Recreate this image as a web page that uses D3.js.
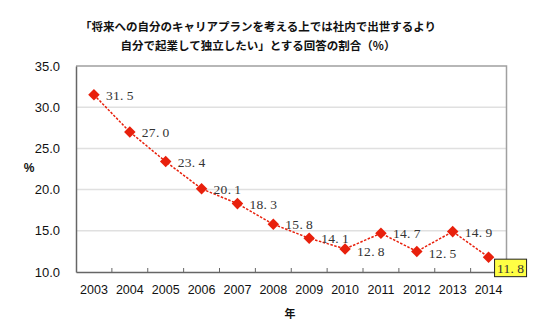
<!DOCTYPE html>
<html><head><meta charset="utf-8">
<script src="https://cdn.jsdelivr.net/npm/d3@7"></script>
<style>body{margin:0;background:#fff}svg{display:block}</style>
</head><body>
<svg id="c" width="560" height="330"></svg>
<script>
const years = ["2003","2004","2005","2006","2007","2008","2009","2010","2011","2012","2013","2014"];
const values = [31.5,27.0,23.4,20.1,18.3,15.8,14.1,12.8,14.7,12.5,14.9,11.8];
const yTicks = [10,15,20,25,30,35];
const titleLines = ["「将来への自分のキャリアプランを考える上では社内で出世するより","自分で起業して独立したい」とする回答の割合（%）"];
const yLabel = "%";
const xLabel = "年";

const svg = d3.select("#c");
const L = 76, R = 506.5, T = 66, B = 272;
const x = d3.scaleBand().domain(years).range([L, R]);
const y = d3.scaleLinear().domain([10, 35]).range([B, T]);

svg.append("g").selectAll("line").data(yTicks.filter(t => t > 10 && t < 35)).join("line")
  .attr("x1", L).attr("x2", R).attr("y1", d => y(d)).attr("y2", d => y(d))
  .attr("stroke", "#e0e0e0").attr("stroke-width", 1.5);

svg.append("path").attr("d", `M${L},${T}H${R}V${B}`).attr("fill", "none").attr("stroke", "#a0a0a0").attr("stroke-width", 1.5);

const yAxis = svg.append("g").attr("transform", `translate(${L},0)`)
  .call(d3.axisLeft(y).tickValues(yTicks).tickSize(0).tickPadding(16).tickFormat(d3.format(".1f")));
yAxis.select(".domain").attr("stroke", "#666").attr("stroke-width", 1.5);
yAxis.selectAll("text").attr("font-family", "Liberation Sans, Arial, sans-serif").attr("font-size", 13).attr("fill", "#111");

const xAxis = svg.append("g").attr("transform", `translate(0,${B})`)
  .call(d3.axisBottom(x).tickSize(0).tickPadding(13));
xAxis.select(".domain").attr("stroke", "#666").attr("stroke-width", 1.5);
xAxis.selectAll("text").attr("font-family", "Liberation Sans, Arial, sans-serif").attr("font-size", 12.5).attr("fill", "#111");
svg.append("g").selectAll("line").data(years.slice(1)).join("line")
  .attr("x1", d => x(d)).attr("x2", d => x(d)).attr("y1", B).attr("y2", B - 4)
  .attr("stroke", "#666").attr("stroke-width", 1);

const cx = d => x(d) + x.bandwidth() / 2;

svg.append("path").datum(values)
  .attr("d", d3.line().x((d, i) => cx(years[i])).y(d => y(d)))
  .attr("fill", "none").attr("stroke", "#e8200c").attr("stroke-width", 1.5).attr("stroke-dasharray", "2.5,1.5");

svg.append("g").selectAll("path").data(values).join("path")
  .attr("transform", (d, i) => `translate(${cx(years[i])},${y(d)})`)
  .attr("d", d3.symbol(d3.symbolDiamond2, 85)())
  .attr("fill", "#e8200c");

const last = values.length - 1;
const lbl = svg.append("g");
const labelText = (g, v, xx, yy, anchor) => {
  const s = v.toFixed(1).split(".");
  const t = g.append("text").attr("x", xx).attr("y", yy).attr("text-anchor", anchor)
    .attr("font-family", "Liberation Serif, serif").attr("font-size", 13.5).attr("letter-spacing", 0.3).attr("fill", "#333");
  t.append("tspan").text(s[0] + ".");
  t.append("tspan").attr("dx", 3).text(s[1]);
};
values.forEach((v, i) => {
  const px = cx(years[i]), py = y(v);
  if (i === last) {
    lbl.append("rect").attr("x", px + 6).attr("y", py + 2).attr("width", 32).attr("height", 17.5)
      .attr("fill", "#ffff44").attr("stroke", "#222").attr("stroke-width", 1);
    labelText(lbl, v, px + 22, py + 15.5, "middle");
    return;
  }
  const below = (i === 7 || i === 9);
  labelText(lbl, v, px + 12, below ? py + 7 : py + 5, "start");
});

svg.append("g").selectAll("text").data(titleLines).join("text")
  .attr("x", 258).attr("y", (d, i) => 31 + i * 19).attr("text-anchor", "middle")
  .attr("font-family", "Noto Sans CJK JP, sans-serif").attr("font-size", 11.5).attr("font-weight", 700).attr("fill", "#111")
  .text(d => d);
svg.append("text").attr("x", 29).attr("y", 172).attr("text-anchor", "middle")
  .attr("font-family", "Liberation Sans, Arial, sans-serif").attr("font-size", 12).attr("font-weight", "bold").attr("fill", "#111").text(yLabel);
svg.append("text").attr("x", 290).attr("y", 318).attr("text-anchor", "middle")
  .attr("font-family", "Noto Sans CJK JP, sans-serif").attr("font-size", 11).attr("font-weight", 700).attr("fill", "#111").text(xLabel);
</script>
</body></html>
